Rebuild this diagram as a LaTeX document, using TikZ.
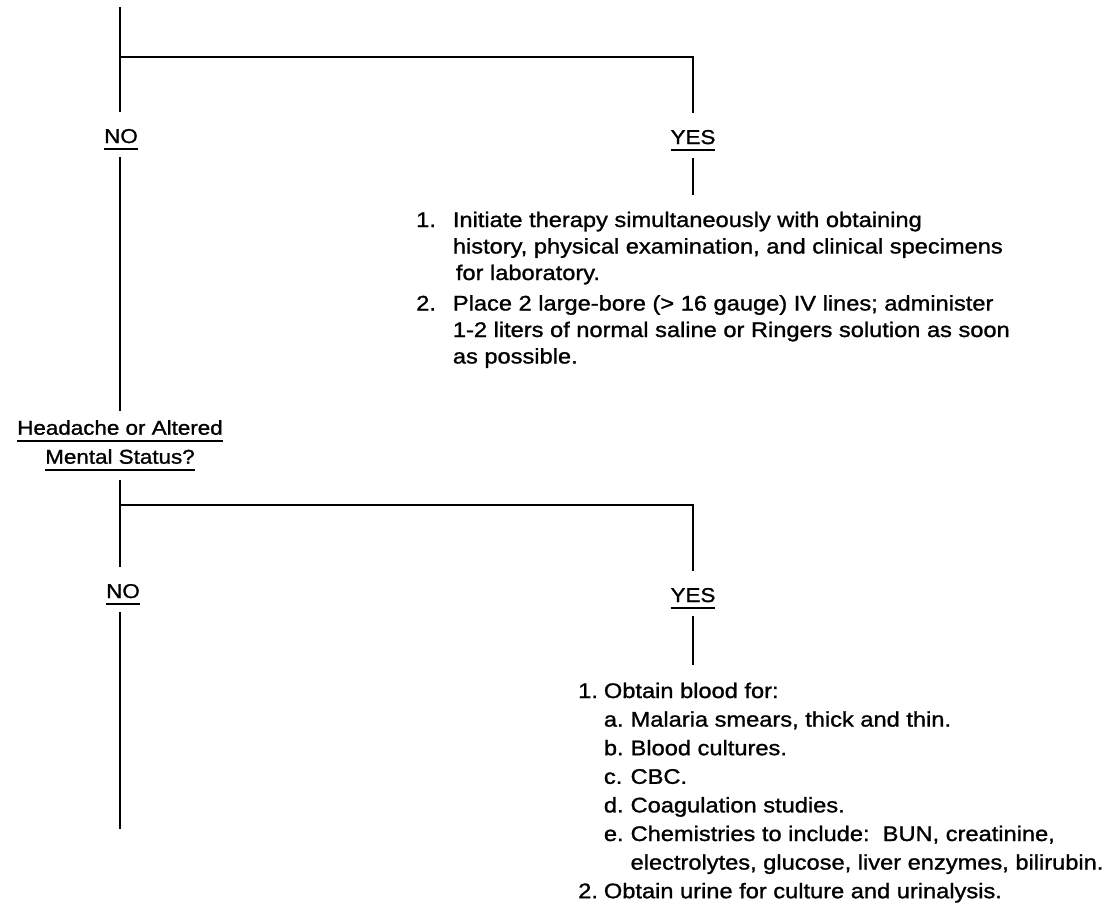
\documentclass[tikz,border=0pt]{standalone}
\usepackage{fontspec}
\setmainfont{Liberation Sans}[FakeStretch=1.12,FakeBold=1.2]

% underline drawn a little below the text
\newsavebox\ulbox
\newcommand{\uln}[1]{\sbox\ulbox{#1}\rlap{\rule[-7pt]{\wd\ulbox}{1.9pt}}\usebox\ulbox}

\begin{document}
\begin{tikzpicture}[x=1pt,y=-1pt,line width=2.4pt,
  lbl/.style={font=\fontsize{20}{24}\selectfont,text height=24pt,text depth=7pt,
    inner xsep=0pt,inner ysep=6pt,anchor=base},
  quest/.style={font=\fontsize{20}{29}\selectfont,align=center,inner sep=8pt,anchor=north},
  steps/.style={anchor=base west,inner xsep=0pt,inner ysep=12pt}]

\def\xl{120}
\def\xr{693}

\useasboundingbox (0,0) rectangle (1113,905);

% -------- First split --------
\coordinate (top)     at (\xl,7);
\coordinate (split1)  at (\xl,57);
\coordinate (split1r) at (\xr,57);

\node[lbl] (no1)  at (121,143)  {\uln{NO}};
\node[lbl] (yes1) at (\xr,144)  {\uln{YES}};

\node[steps,font=\fontsize{21.1}{26.5}\selectfont] (steps1) at (415,227) {%
\begin{tabular}[t]{@{}l@{\hspace{17pt}}l@{}}
1. & Initiate therapy simultaneously with obtaining\\
   & history, physical examination, and clinical specimens\\
   & \hspace{3pt}for laboratory.\\[4pt]
2. & Place 2 large-bore (> 16 gauge) IV lines; administer\\
   & 1-2 liters of normal saline or Ringers solution as soon\\
   & as possible.
\end{tabular}};

\draw (top) -- (top |- no1.north);
\draw (split1) -- (split1r) -- (yes1.north);
\draw (yes1) -- (yes1 |- steps1.north);

% -------- Question --------
\node[quest] (quest) at (\xl,411) {\uln{Headache or Altered}\\\uln{Mental Status?}};
\draw (top |- no1.south) -- (top |- quest.north);

% -------- Second split --------
\coordinate (split2)  at (\xl,505);
\coordinate (split2r) at (\xr,505);
\coordinate (bottom)  at (\xl,829);

\node[lbl] (no2)  at (123,598) {\uln{NO}};
\node[lbl] (yes2) at (\xr,602) {\uln{YES}};

\node[steps,font=\fontsize{21.1}{28.6}\selectfont] (steps2) at (577,698) {%
\begin{tabular}[t]{@{}l@{\hspace{6pt}}l@{\hspace{7pt}}l@{}}
1. & \multicolumn{2}{@{}l@{}}{Obtain blood for:}\\
   & a. & Malaria smears, thick and thin.\\
   & b. & Blood cultures.\\
   & c. & CBC.\\
   & d. & Coagulation studies.\\
   & e. & Chemistries to include:\ \ BUN, creatinine,\\
   &    & electrolytes, glucose, liver enzymes, bilirubin.\\
2. & \multicolumn{2}{@{}l@{}}{Obtain urine for culture and urinalysis.}
\end{tabular}};

\draw (top |- quest.south) -- (top |- no2.north);
\draw (split2) -- (split2r) -- (yes2.north);
\draw (yes2) -- (yes2 |- steps2.north);
\draw (top |- no2.south) -- (bottom);

\end{tikzpicture}
\end{document}
